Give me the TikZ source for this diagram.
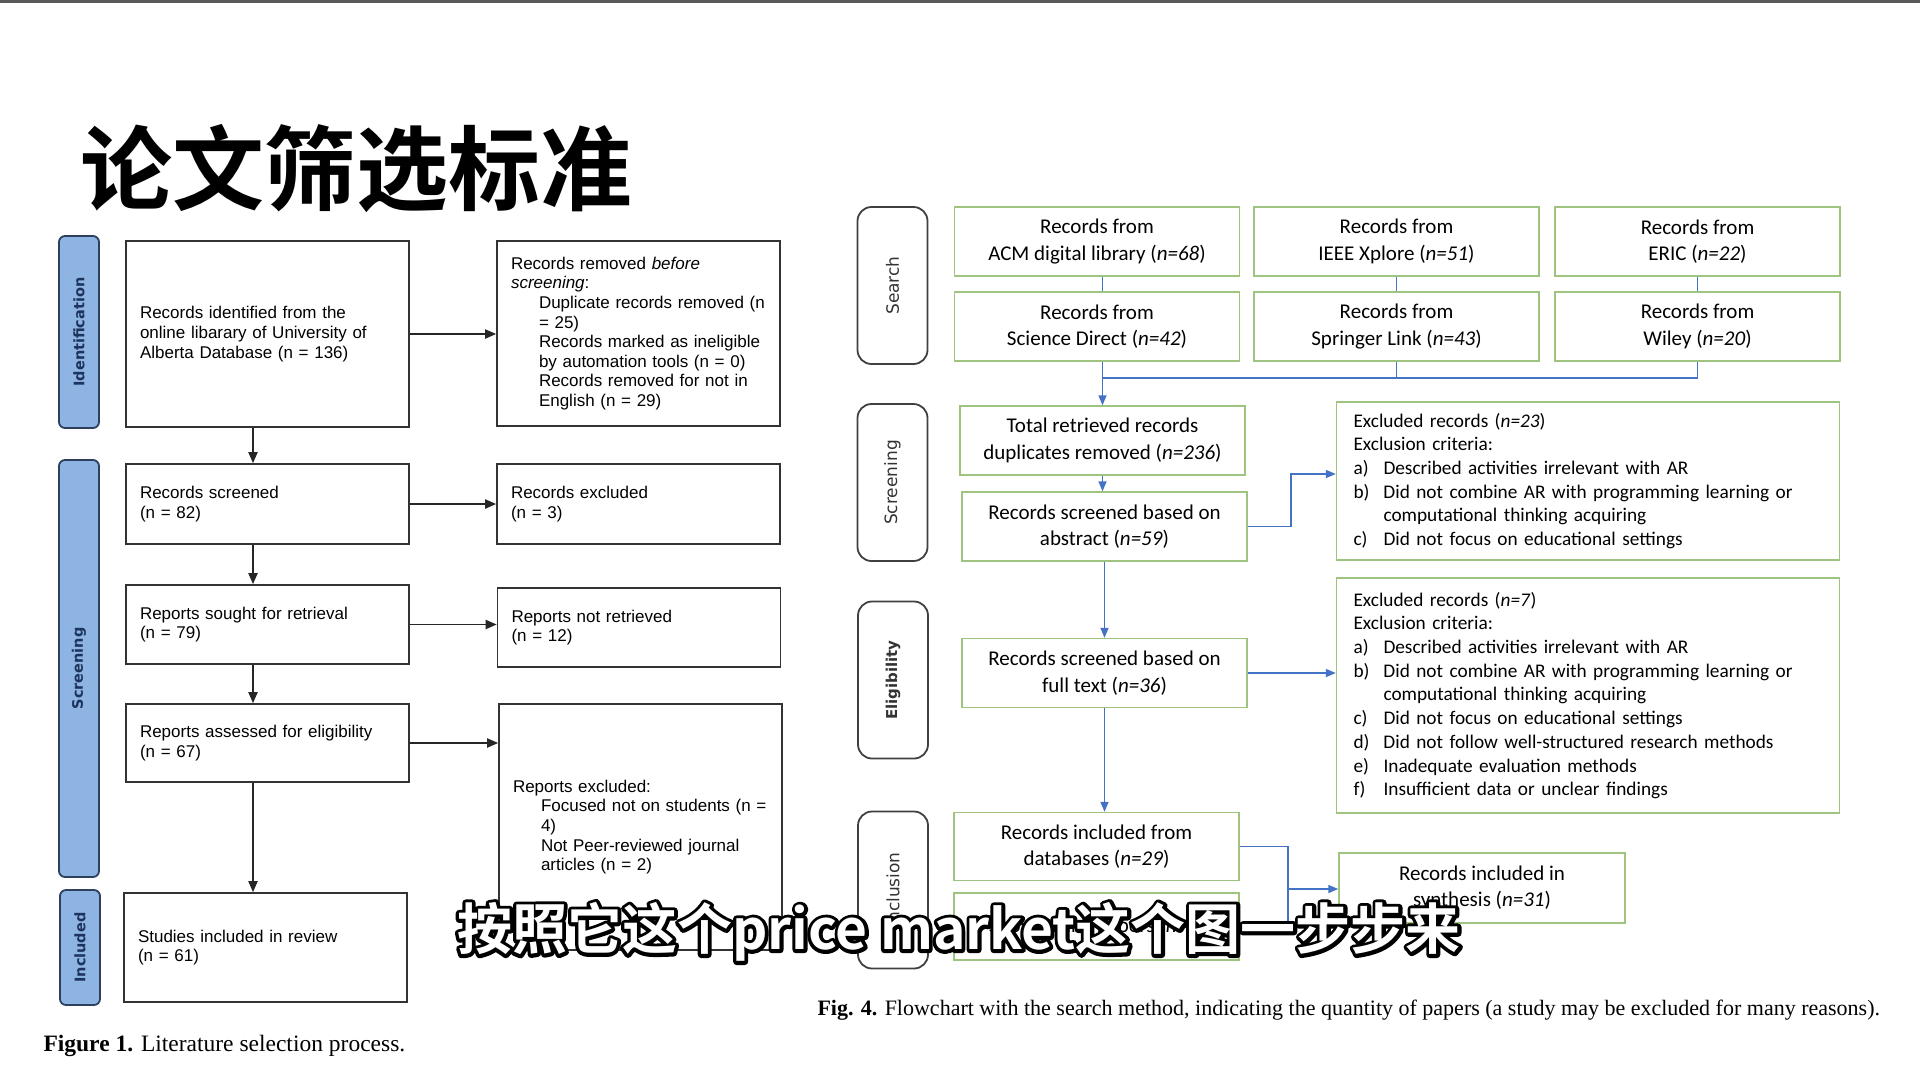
\documentclass[tikz,border=0pt]{standalone}
\usepackage{fontspec}
\setmainfont{Liberation Serif}
\setsansfont{Liberation Sans}
\newfontfamily\calib{Carlito}
\newfontfamily\dejavu{DejaVu Sans}
\newfontfamily\cjk{Noto Sans CJK SC}[BoldFont={Noto Sans CJK SC Bold}]
\usetikzlibrary{arrows.meta}

\definecolor{tabblue}{RGB}{141,180,226}
\definecolor{tabedge}{RGB}{45,64,92}
\definecolor{tabtext}{RGB}{28,52,92}
\definecolor{boxgreen}{RGB}{158,196,128}
\definecolor{lineblue}{RGB}{68,114,196}

\newcommand{\indl}{\hspace*{28pt}}
\newcommand{\crit}[1]{\makebox[30pt][l]{#1}}
% white text with a black rim: stroked copy first, filled text on top
\newcommand{\rimtext}[1]{\rlap{\special{pdf:literal direct 1 Tr 1 j 7 w 0 G}#1\special{pdf:literal direct 0 Tr}}#1}

\begin{document}
\begin{tikzpicture}[x=1pt,y=-1pt,font=\sffamily,
  lbox/.style={draw=black!80,line width=1.6pt,fill=white,align=left,
    inner xsep=14pt,text width=255pt,minimum width=283pt,
    font=\sffamily\fontsize{17}{19.6}\selectfont},
  ltab/.style={draw=tabedge,line width=1.8pt,fill=tabblue,rounded corners=6pt,
    rotate=90,minimum height=40pt,text=tabtext,
    font=\dejavu\bfseries\fontsize{14.5}{16}\selectfont},
  larr/.style={draw=black!85,line width=1.8pt,-{Triangle[length=11pt,width=9pt]}},
  rbox/.style={draw=boxgreen,line width=1.4pt,fill=white,align=center,
    minimum width=285pt,minimum height=69pt,
    font=\calib\fontsize{21}{26.5}\selectfont},
  xbox/.style={rbox,align=left,inner xsep=17pt,text width=469pt,
    minimum width=503pt,font=\calib\fontsize{19.3}{23.7}\selectfont},
  rtab/.style={draw=black!75,line width=1.8pt,fill=white,rounded corners=14pt,
    rotate=90,minimum width=157pt,minimum height=70pt,text=black!80,
    font=\dejavu\fontsize{17}{20}\selectfont},
  bline/.style={draw=lineblue,line width=1.5pt},
  barr/.style={bline,-{Triangle[length=10pt,width=8pt]}}]
  \useasboundingbox (0,0) rectangle (1920,1080);
  \fill[black!65] (0,0) rectangle (1920,3);

  \node[anchor=west,inner sep=0pt,font=\cjk\bfseries\fontsize{92}{92}\selectfont] (title) at (80,169) {论文筛选标准};

  % Fig. 1
  \node[ltab,minimum width=192pt] (tabident) at (79,332) {Identification};
  \node[ltab,minimum width=417pt] (tabscreen) at (79,668.5) {Screening};
  \node[ltab,minimum width=115pt] (tabincl) at (80,947.5) {Included};

  \node[lbox,minimum height=186pt] (ident) at (267.5,334) {Records identified from the\\online libarary of University of\\Alberta Database (n = 136)};
  \node[lbox,minimum height=185pt] (removed) at (638.5,333.5) {Records removed \textit{before}\\\textit{screening}:\\\indl Duplicate records removed (n\\\indl = 25)\\\indl Records marked as ineligible\\\indl by automation tools (n = 0)\\\indl Records removed for not in\\\indl English (n = 29)};
  \node[lbox,minimum height=80pt] (screened) at (267.5,504) {Records screened\\(n = 82)};
  \node[lbox,minimum height=80pt] (excluded) at (638.5,504) {Records excluded\\(n = 3)};
  \node[lbox,minimum height=79pt] (sought) at (267.5,624.5) {Reports sought for retrieval\\(n = 79)};
  \node[lbox,minimum height=79pt] (notretr) at (639,627.5) {Reports not retrieved\\(n = 12)};
  \node[lbox,minimum height=78pt] (assessed) at (267.5,743) {Reports assessed for eligibility\\(n = 67)};
  \node[lbox,minimum height=246pt] (repexcl) at (640.5,827) {Reports excluded:\\\indl Focused not on students (n =\\\indl 4)\\\indl Not Peer-reviewed journal\\\indl articles (n = 2)};
  \node[lbox,minimum height=109pt] (studies) at (265.5,947.5) {Studies included in review\\(n = 61)};

  \coordinate (spine) at (253,0);
  \foreach \a/\b in {ident/screened,screened/sought,sought/assessed,assessed/studies}
    \draw[larr] (\a.south -| spine) -- (\b.north -| spine);
  \foreach \a/\b in {ident/removed,screened/excluded,sought/notretr,assessed/repexcl}
    \draw[larr] (\a.east) -- (\a.east -| \b.west);

  \node[anchor=west,font=\rmfamily\fontsize{23.5}{28}\selectfont] (capone) at (40,1046) {\textbf{Figure 1.} Literature selection process.};

  % Fig. 4
  \node[rtab] (tabsearch) at (892.5,285.5) {Search};
  \node[rtab] (tabrscreen) at (892.5,482.5) {Screening};
  \node[rtab,font=\dejavu\bfseries\fontsize{15}{18}\selectfont] (tabelig) at (893,680) {Eligibility};
  \node[rtab] (tabinclusion) at (893,890) {Inclusion};

  \node[rbox] (acm) at (1097,241.5) {Records from\\ACM digital library (\textit{n=68})};
  \node[rbox] (ieee) at (1396.5,241.5) {Records from\\IEEE Xplore (\textit{n=51})};
  \node[rbox] (eric) at (1697.5,241.5) {Records from\\ERIC (\textit{n=22})};
  \node[rbox] (scidir) at (1097,326.5) {Records from\\Science Direct (\textit{n=42})};
  \node[rbox] (springer) at (1396.5,326.5) {Records from\\Springer Link (\textit{n=43})};
  \node[rbox] (wiley) at (1697.5,326.5) {Records from\\Wiley (\textit{n=20})};

  \node[rbox] (total) at (1102.5,440.5) {Total retrieved records\\duplicates removed (\textit{n=236})};
  \node[rbox] (abstract) at (1104.5,526.5) {Records screened based on\\abstract (\textit{n=59})};
  \node[rbox] (fulltext) at (1104.5,673) {Records screened based on\\full text (\textit{n=36})};
  \node[rbox,minimum height=68pt] (databases) at (1096.5,846.5) {Records included from\\databases (\textit{n=29})};
  \node[rbox,minimum height=67pt] (snowball) at (1096.5,926.5) {Snowballing papers (\textit{n=2})};
  \node[rbox,minimum height=70pt,minimum width=286pt] (synthesis) at (1482,888) {Records included in\\synthesis (\textit{n=31})};

  \node[xbox,minimum height=158pt] (exclabs) at (1588,481) {Excluded records (\textit{n=23})\\Exclusion criteria:\\\crit{a)}Described activities irrelevant with AR\\\crit{b)}Did not combine AR with programming learning or\\\crit{}computational thinking acquiring\\\crit{c)}Did not focus on educational settings};
  \node[xbox,minimum height=235pt] (exclfull) at (1588,695.5) {Excluded records (\textit{n=7})\\Exclusion criteria:\\\crit{a)}Described activities irrelevant with AR\\\crit{b)}Did not combine AR with programming learning or\\\crit{}computational thinking acquiring\\\crit{c)}Did not focus on educational settings\\\crit{d)}Did not follow well-structured research methods\\\crit{e)}Inadequate evaluation methods\\\crit{f)}Insufficient data or unclear findings};

  \coordinate (merge) at (0,378);
  \coordinate (elbow) at (1291,474);
  \coordinate (join) at (1288,889);
  \draw[bline] (acm.south -| total) -- (scidir.north -| total);
  \draw[bline] (ieee) -- (springer);
  \draw[bline] (eric) -- (wiley);
  \draw[bline] (scidir.south -| total) -- (merge -| total) -- (merge -| wiley) -- (wiley.south);
  \draw[bline] (springer.south) -- (merge -| springer);
  \draw[barr] (merge -| total) -- (total.north);
  \draw[barr] (total.south) -- (total.south |- abstract.north);
  \draw[barr] (abstract.east) -| (elbow) -- (elbow -| exclabs.west);
  \draw[barr] (abstract.south) -- (abstract.south |- fulltext.north);
  \draw[barr] (fulltext.east) -- (fulltext.east -| exclfull.west);
  \draw[barr] (fulltext.south) -- (fulltext.south |- databases.north);
  \draw[bline] (databases.east) -| (join |- snowball.east) -- (snowball.east);
  \draw[barr] (join) -- (join -| synthesis.west);

  \node[anchor=west,font=\rmfamily\fontsize{22}{26}\selectfont] (capfour) at (814,1010) {\textbf{Fig. 4.} Flowchart with the search method, indicating the quantity of papers (a study may be excluded for many reasons).};

  % subtitle overlay
  \node[inner sep=0pt,text=white,font=\cjk\bfseries\fontsize{55}{55}\selectfont] (subtitle) at (959,932) {\rimtext{按照它这个price market这个图一步步来}};
\end{tikzpicture}
\end{document}
